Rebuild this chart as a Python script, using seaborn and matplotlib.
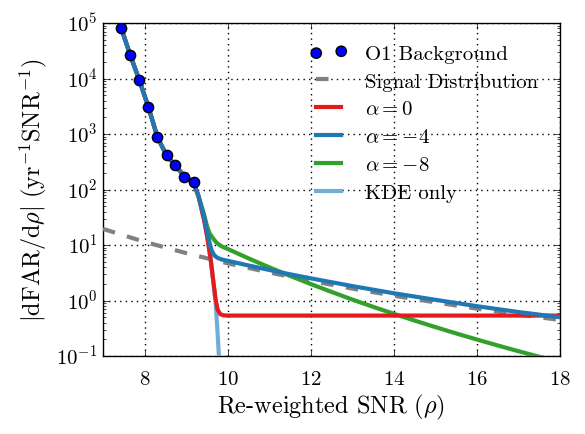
import numpy as np
import matplotlib
matplotlib.use('Agg')
import matplotlib.pyplot as plt
import seaborn as sns

# classic look, Computer Modern text
plt.style.use('classic')
plt.rcParams['font.family'] = ['cmr10']
plt.rcParams['mathtext.fontset'] = 'cm'
plt.rcParams['axes.formatter.use_mathtext'] = True
plt.rcParams['axes.unicode_minus'] = False
plt.rcParams['figure.facecolor'] = 'white'
plt.rcParams['savefig.facecolor'] = 'white'

# O1 background points
bg_snr = [7.44, 7.66, 7.87, 8.09, 8.31, 8.53, 8.74, 8.96, 9.18]
bg_rate = [8.0e4, 2.6e4, 9.5e3, 3.1e3, 880, 410, 273, 170, 137]

# signal distribution (dashed)
sig_snr = [7, 8, 9, 10, 11, 12, 13, 14, 15, 16, 17, 18]
sig_rate = [19.5, 11.4, 7.14, 4.68, 3.2, 2.26, 1.64, 1.22, 0.925, 0.714, 0.56, 0.446]

# shared steep part (background KDE)
steep_snr = [7.44, 7.66, 7.87, 8.09, 8.31, 8.53, 8.74, 8.96, 9.18, 9.3]
steep_rate = [8.0e4, 2.6e4, 9.5e3, 3.1e3, 880, 410, 273, 172, 135, 75]

# KDE only
kde_snr = steep_snr + [9.43, 9.51, 9.59, 9.66, 9.71, 9.75, 9.79]
kde_rate = steep_rate + [29, 14, 5.6, 2.0, 0.93, 0.33, 0.1]

# alpha = 0
a0_snr = steep_snr + [9.43, 9.51, 9.59, 9.66, 9.71, 9.76, 9.82, 9.9, 10, 12, 14, 16, 18]
a0_rate = steep_rate + [29, 14, 5.6, 2.1, 1.05, 0.68, 0.57, 0.54, 0.535, 0.535, 0.535, 0.535, 0.535]

# alpha = -4
a4_snr = steep_snr + [9.43, 9.51, 9.57, 9.62, 9.68, 9.75, 9.85, 10, 10.5, 11, 11.5, 12, 13, 14, 15, 16, 17, 18]
a4_rate = steep_rate + [33, 17, 10.5, 7.8, 6.5, 5.9, 5.5, 5.2, 4.28, 3.55, 2.97, 2.51, 1.82, 1.35, 1.03, 0.79, 0.62, 0.50]

# alpha = -8
a8_snr = steep_snr + [9.43, 9.51, 9.57, 9.63, 9.69, 9.75, 9.85, 10, 10.5, 11, 11.5, 12, 12.5, 13, 13.5,
                      14, 14.5, 15, 15.5, 16, 16.5, 17, 17.5, 18]
a8_rate = steep_rate + [36, 21, 16, 13.8, 12, 10.7, 9.5, 8.5, 5.75, 3.97, 2.78, 1.98, 1.43, 1.04, 0.77,
                        0.576, 0.435, 0.332, 0.255, 0.198, 0.155, 0.122, 0.097, 0.077]

fig = plt.figure(figsize=(5.85, 4.35), dpi=100)
ax = fig.add_axes([103/585, 78/435, 457/585, 333/435])

sns.scatterplot(x=bg_snr, y=bg_rate, ax=ax, color='#0000ff', edgecolor='k', linewidth=1,
                s=55, zorder=10, label='O1 Background')
sns.lineplot(x=sig_snr, y=sig_rate, ax=ax, color='0.5', lw=3, zorder=3, label='Signal Distribution')
ax.lines[-1].set_dashes([9, 9])
sns.lineplot(x=a0_snr, y=a0_rate, ax=ax, color='#e41a1c', lw=3, zorder=5, label=r'$\alpha = 0$')
sns.lineplot(x=a4_snr, y=a4_rate, ax=ax, color='#1f78b4', lw=3, zorder=6, label=r'$\alpha = -4$')
sns.lineplot(x=a8_snr, y=a8_rate, ax=ax, color='#33a02c', lw=3, zorder=4, label=r'$\alpha = -8$')
sns.lineplot(x=kde_snr, y=kde_rate, ax=ax, color='#6faed9', lw=3, zorder=4.5, label='KDE only')

ax.set_yscale('log')
ax.set_xlim(7, 18)
ax.set_ylim(1e-1, 1e5)
ax.set_xticks([8, 10, 12, 14, 16, 18])
ax.grid(True, which='major', linestyle=':', color='k', lw=1)
ax.tick_params(labelsize=15)
ax.tick_params(axis='x', pad=10)

ax.set_xlabel(r'Re-weighted SNR ($\rho$)', fontsize=17.5, labelpad=3)
ax.set_ylabel(r'$|\mathrm{dFAR}/\mathrm{d}\rho|\ (\mathrm{yr}^{-1}\mathrm{SNR}^{-1})$', fontsize=17.5)

ax.legend(loc='upper left', bbox_to_anchor=(310/585, 1 - 45/435), bbox_transform=fig.transFigure,
          frameon=False, fontsize=15, scatterpoints=2, handlelength=1.8, handletextpad=0.85,
          labelspacing=0.45, borderpad=0, borderaxespad=0)

fig.savefig('out.png', dpi=100)
